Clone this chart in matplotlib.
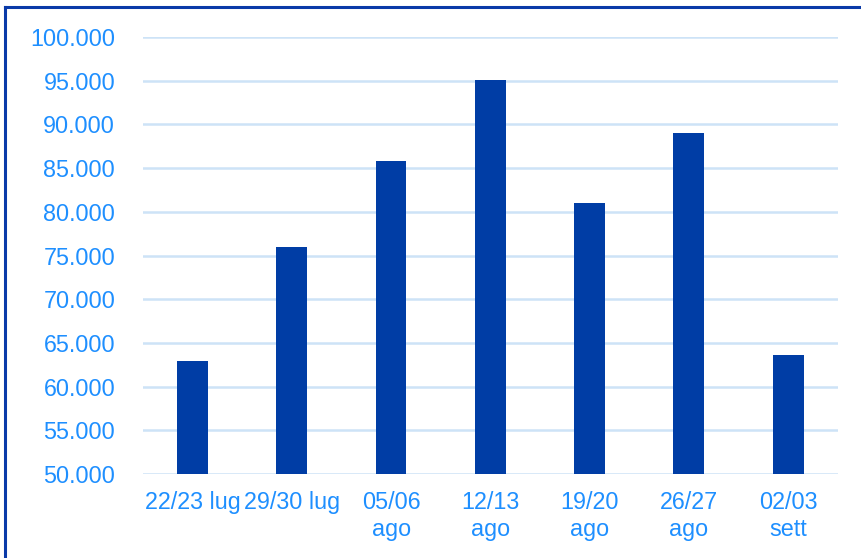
import matplotlib.pyplot as plt
from matplotlib.lines import Line2D
from matplotlib.ticker import FuncFormatter

plt.rcParams['font.family'] = ['Liberation Sans', 'DejaVu Sans']

weekends = ['22/23 lug', '29/30 lug', '05/06\nago', '12/13\nago', '19/20\nago', '26/27\nago', '02/03\nsett']
visitors = [62900, 76000, 85800, 95100, 81000, 89000, 63600]
y_ticks = list(range(50000, 100001, 5000))

bar_color = '#003DA5'
text_color = '#1E8FFF'
grid_color = '#CDE3F7'

fig = plt.figure(figsize=(8.61, 5.58), dpi=100)
ax = fig.add_axes([0.166, 0.1505, 0.807, 0.783])

ax.bar(range(len(weekends)), visitors, width=0.31, color=bar_color, zorder=3)

ax.set_ylim(50000, 100000)
ax.set_xlim(-0.5, len(weekends) - 0.5)
ax.set_yticks(y_ticks)
ax.yaxis.set_major_formatter(FuncFormatter(lambda v, p: f'{int(v):,}'.replace(',', '.')))
ax.set_xticks(range(len(weekends)))
ax.set_xticklabels(weekends, linespacing=1.25)

ax.grid(axis='y', color=grid_color, linewidth=1.8, zorder=0)
ax.tick_params(axis='both', length=0, colors=text_color, labelsize=16.8)
ax.tick_params(axis='y', pad=20)
ax.tick_params(axis='x', pad=12)
for s in ax.spines.values():
    s.set_visible(False)

# frame of the slide (only left and top edges visible)
fig.add_artist(Line2D([5 / 861, 5 / 861], [0, 1 - 6.5 / 558], transform=fig.transFigure, color='#0A3AA8', linewidth=2.2))
fig.add_artist(Line2D([5 / 861, 1], [1 - 6.5 / 558, 1 - 6.5 / 558], transform=fig.transFigure, color='#0A3AA8', linewidth=2.2))

fig.savefig('out.png', dpi=100)
